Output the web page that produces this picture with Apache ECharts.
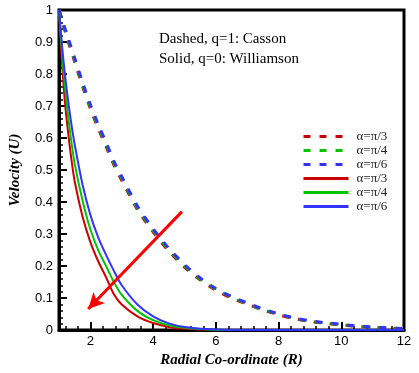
<!DOCTYPE html>
<html>
<head>
<meta charset="utf-8">
<script src="https://cdn.jsdelivr.net/npm/echarts@6/dist/echarts.min.js"></script>
<style>
  html, body { margin: 0; padding: 0; background: #fff; }
  #chart { width: 419px; height: 373px; }
</style>
</head>
<body>
<div id="chart"></div>
<script>
// x positions (R) and velocity values
const dashX = [1, 1.25, 1.5, 1.75, 2, 2.25, 2.5, 2.75, 3, 3.5, 4, 4.5, 5, 5.5, 6, 6.5, 7, 7.5, 8, 8.5, 9, 9.5, 10, 10.5, 11, 11.5, 12];
const cassonPi3 = [1.0, 0.915, 0.838, 0.762, 0.692, 0.630, 0.574, 0.516, 0.468, 0.377, 0.307, 0.247, 0.197, 0.157, 0.125, 0.100, 0.081, 0.063, 0.048, 0.036, 0.027, 0.021, 0.016, 0.012, 0.0085, 0.006, 0.0045];
const cassonPi4 = [1.0, 0.920, 0.844, 0.768, 0.698, 0.636, 0.580, 0.522, 0.474, 0.382, 0.312, 0.251, 0.201, 0.160, 0.128, 0.103, 0.083, 0.064, 0.050, 0.037, 0.028, 0.022, 0.017, 0.0125, 0.009, 0.0065, 0.0048];
const cassonPi6 = [1.0, 0.925, 0.850, 0.775, 0.705, 0.643, 0.587, 0.528, 0.480, 0.388, 0.317, 0.256, 0.205, 0.163, 0.130, 0.105, 0.085, 0.066, 0.051, 0.038, 0.029, 0.023, 0.018, 0.013, 0.0095, 0.007, 0.005];

const solidX = [1, 1.1, 1.2, 1.3, 1.4, 1.5, 1.75, 2, 2.25, 2.5, 2.75, 3, 3.5, 4, 4.5, 5, 6, 8, 10, 12];
const willPi3 = [1.0, 0.83, 0.70, 0.61, 0.53, 0.465, 0.355, 0.275, 0.215, 0.165, 0.112, 0.080, 0.043, 0.022, 0.010, 0.004, 0.001, 0, 0, 0];
const willPi4 = [1.0, 0.86, 0.75, 0.66, 0.585, 0.52, 0.405, 0.315, 0.25, 0.20, 0.15, 0.11, 0.060, 0.031, 0.015, 0.007, 0.001, 0, 0, 0];
const willPi6 = [1.0, 0.885, 0.79, 0.71, 0.64, 0.58, 0.455, 0.36, 0.29, 0.235, 0.185, 0.14, 0.080, 0.043, 0.021, 0.010, 0.002, 0, 0, 0];

const xMajor = [2, 4, 6, 8, 10, 12];
const xMinor = [1.2, 1.6, 2.4, 2.8, 3.2, 3.6, 4.4, 4.8, 5.2, 5.6, 6.4, 6.8, 7.2, 7.6, 8.4, 8.8, 9.2, 9.6, 10.4, 10.8, 11.2, 11.6];

// arrow from (R, U) start to tip
const arrowFrom = [4.92, 0.37];
const arrowTo = [1.93, 0.066];

const labels = {
    c3: 'α=π/3', c4: 'α=π/4', c6: 'α=π/6',
    w3: 'α=π/3', w4: 'α=π/4', w6: 'α=π/6'
};

const RED = '#cc0000';
const GREEN = '#00c400';
const BLUE = '#3333ff';
const serif = 'Liberation Serif';

const zip = (xs, ys) => xs.map((x, i) => [x, ys[i]]);

function dashed(name, color, ys) {
    return {
        name, type: 'line', data: zip(dashX, ys), symbol: 'none', smooth: 0.3,
        lineStyle: { color, width: 3, type: [7, 9] }, itemStyle: { color }
    };
}
function solid(name, color, ys) {
    return {
        name, type: 'line', data: zip(solidX, ys), symbol: 'none', smooth: 0.3,
        lineStyle: { color, width: 2, type: 'solid' }, itemStyle: { color }
    };
}

const chart = echarts.init(document.getElementById('chart'));

const series = [
    dashed('c3', RED, cassonPi3),
    dashed('c4', GREEN, cassonPi4),
    dashed('c6', BLUE, cassonPi6),
    solid('w3', RED, willPi3),
    solid('w4', GREEN, willPi4),
    solid('w6', BLUE, willPi6)
];

series.push({
    name: 'arrow', type: 'line', data: [], silent: true,
    markLine: {
        silent: true,
        symbol: ['none', 'arrow'],
        symbolSize: [12, 16],
        label: { show: false },
        lineStyle: { color: '#ff0000', width: 3, type: 'solid' },
        data: [[{ coord: arrowFrom }, { coord: arrowTo }]]
    }
});

chart.setOption({
    animation: false,
    backgroundColor: '#fff',
    grid: {
        left: 51, right: 15, top: 10, bottom: 42,
        show: true, borderColor: '#000', borderWidth: 3, backgroundColor: 'transparent'
    },
    legend: {
        data: ['c3', 'c4', 'c6', 'w3', 'w4', 'w6'],
        orient: 'vertical',
        left: 297, top: 125,
        itemWidth: 45, itemHeight: 14, itemGap: 1,
        lineStyle: { width: 3 },
        itemStyle: { opacity: 0 },
        formatter: name => labels[name],
        textStyle: { fontFamily: serif, fontSize: 13, color: '#222', padding: [0, 0, 0, 3] }
    },
    graphic: [
        {
            type: 'text', left: 159, top: 32,
            style: { text: 'Dashed, q=1: Casson', font: '15px "Liberation Serif"', fill: '#000' }
        },
        {
            type: 'text', left: 159, top: 52,
            style: { text: 'Solid, q=0: Williamson', font: '15px "Liberation Serif"', fill: '#000' }
        }
    ],
    xAxis: [
        {
            type: 'value', min: 1, max: 12,
            name: 'Radial Co-ordinate (R)', nameLocation: 'middle', nameGap: 22,
            nameTextStyle: { fontFamily: serif, fontSize: 15, fontStyle: 'italic', fontWeight: 'bold', color: '#000' },
            axisLine: { onZero: false, lineStyle: { color: '#000', width: 3 } },
            axisTick: { inside: true, length: 8, lineStyle: { width: 2, color: '#000' }, customValues: xMajor },
            axisLabel: { customValues: xMajor, margin: 5, fontFamily: 'Liberation Sans', fontSize: 13, color: '#000' },
            splitLine: { show: false }
        },
        {
            type: 'value', min: 1, max: 12, position: 'bottom',
            axisLine: { show: false },
            axisTick: { inside: true, length: 4, lineStyle: { width: 1.5, color: '#000' }, customValues: xMinor },
            axisLabel: { show: false },
            splitLine: { show: false }
        }
    ],
    yAxis: {
        type: 'value', min: 0, max: 1, interval: 0.1,
        name: 'Velocity (U)', nameLocation: 'middle', nameGap: 36,
        nameTextStyle: { fontFamily: serif, fontSize: 15, fontStyle: 'italic', fontWeight: 'bold', color: '#000' },
        axisLine: { show: true, onZero: false, lineStyle: { color: '#000', width: 3 } },
        axisTick: { inside: true, length: 8, lineStyle: { width: 2, color: '#000' } },
        minorTick: { show: true, splitNumber: 5, length: 4, lineStyle: { width: 1.5, color: '#000' } },
        axisLabel: {
            margin: 6, fontFamily: 'Liberation Sans', fontSize: 13, color: '#000',
            formatter: v => String(Math.round(v * 10) / 10)
        },
        splitLine: { show: false }
    },
    series
});
</script>
</body>
</html>
